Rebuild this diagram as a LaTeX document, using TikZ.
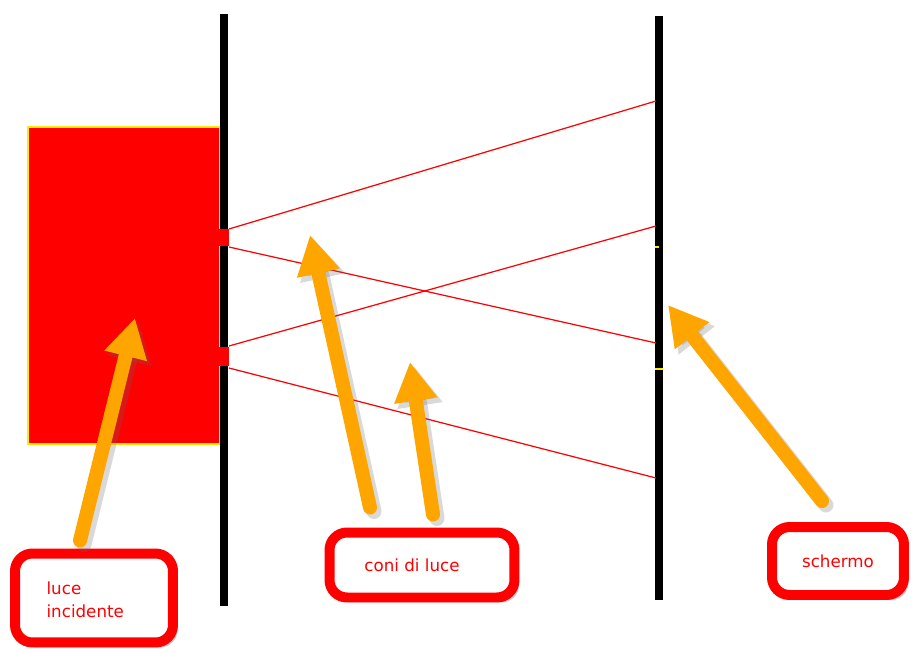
\documentclass[tikz,border=0pt]{standalone}
\usepackage{fontspec}
\setmainfont{DejaVu Sans}
\usetikzlibrary{arrows.meta,positioning,calc,shadows}
\definecolor{PureRed}{RGB}{255,0,0}
\definecolor{ArrowOrange}{RGB}{255,165,0}
\definecolor{MarkYellow}{RGB}{255,235,0}
\tikzset{
  wall/.style={black,line width=0.17cm},
  ray/.style={PureRed,line width=0.7pt},
  yellowdash/.style={MarkYellow,line width=0.8pt},
  tag/.style={draw=PureRed,line width=0.2cm,fill=white,rounded corners=0.35cm,
    text=PureRed,font=\fontsize{9.5}{13}\selectfont,
    drop shadow={opacity=0.45,shadow xshift=0.09cm,shadow yshift=-0.1cm}},
  pointer/.style={ArrowOrange,line width=0.28cm,line cap=round,
    -{Triangle[width=0.82cm,length=0.78cm]}},
  pointershade/.style={black!60,opacity=0.25,line width=0.3cm,line cap=round,
    -{Triangle[width=0.86cm,length=0.8cm]}}
}

\begin{document}
\begin{tikzpicture}[x=0.02cm,y=-0.02cm]
  \useasboundingbox (0,0) rectangle (914,653);
  % incoming light
  \filldraw[fill=PureRed,draw=MarkYellow,line width=0.6pt] (28,127) rectangle (220,444);
  \fill[PureRed] (218,229) rectangle (229,246);
  \fill[PureRed] (218,347) rectangle (229,366);
  % barrier with two slits and the screen
  \coordinate (s1a) at (229,229);
  \coordinate (s1b) at (229,247);
  \coordinate (s2a) at (229,346);
  \coordinate (s2b) at (229,368);
  \draw[wall] (224,14) -- (224,229);
  \draw[wall] (224,246) -- (224,347);
  \draw[wall] (224,366) -- (224,606);
  \draw[wall] (659,16) -- (659,600);
  \draw[yellowdash] (655,247) -- (659,247);
  \draw[yellowdash] (655,369) -- (663,369);
  % light cones
  \coordinate (p1) at (656,101);
  \coordinate (p2) at (656,343);
  \coordinate (p3) at (656,226);
  \coordinate (p4) at (656,478);
  \draw[ray] (s1a) -- (p1);
  \draw[ray] (s1b) -- (p2);
  \draw[ray] (s2a) -- (p3);
  \draw[ray] (s2b) -- (p4);
  % labels
  \node[tag,minimum width=3.16cm,minimum height=1.78cm,align=left] (lblA) at (94,598)
    {\\[-4pt]luce\\incidente\hspace*{0.35cm}};
  \node[tag,minimum width=3.7cm,minimum height=1.3cm] (lblB) at (422,565) {coni di luce\hspace*{0.4cm}};
  \node[tag,minimum width=2.64cm,minimum height=1.36cm] (lblC) at (838,561) {schermo};
  % pointers
  \coordinate (tailA) at ($(lblA.north)+(-14,-8)$);
  \coordinate (tailB) at ($(lblB.north)+(-52,-20)$);
  \coordinate (tailC) at ($(lblB.north)+(11,-13)$);
  \coordinate (tailD) at ($(lblC.north)+(-16,-21)$);
  \coordinate (tipA) at (135,318);
  \coordinate (tipB) at (310,235);
  \coordinate (tipC) at (410,362);
  \coordinate (tipD) at (668,305);
  \foreach \from/\to in {tailA/tipA,tailB/tipB,tailC/tipC,tailD/tipD}
    \draw[pointershade] ($(\from)+(4,4)$) -- ($(\to)+(4,4)$);
  \foreach \from/\to in {tailA/tipA,tailB/tipB,tailC/tipC,tailD/tipD}
    \draw[pointer] (\from) -- (\to);
\end{tikzpicture}
\end{document}
